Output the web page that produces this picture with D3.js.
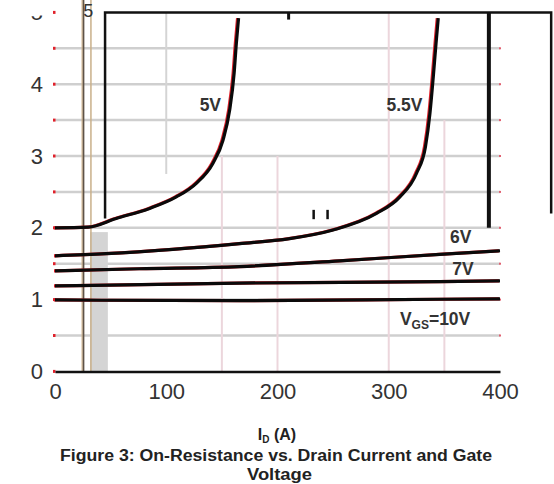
<!DOCTYPE html>
<html>
<head>
<meta charset="utf-8">
<script src="https://cdn.jsdelivr.net/npm/d3@7"></script>
<style>
  body { margin: 0; background: #fff; }
  svg { display: block; }
  text { font-family: "Liberation Sans", Arial, sans-serif; }
</style>
</head>
<body>
<div id="chart"></div>
<script>
// drain current (A) and normalised on-resistance
const id_5v = [0, 30, 55, 85, 109, 127, 142, 151, 157, 161, 163, 165];
const r_5v = [2.0, 2.01, 2.13, 2.27, 2.43, 2.62, 2.9, 3.22, 3.64, 4.15, 4.57, 4.92];

const id_55v = [0, 46, 106, 166, 211, 250, 289, 310, 325, 333, 337, 340, 342.5, 344.5];
const r_55v = [1.61, 1.64, 1.7, 1.78, 1.85, 1.97, 2.2, 2.43, 2.76, 3.13, 3.59, 4.1, 4.57, 4.92];

const id_6v = [0, 76, 166, 256, 346, 400];
const r_6v = [1.4, 1.43, 1.46, 1.54, 1.63, 1.68];

const id_7v = [0, 166, 346, 400];
const r_7v = [1.19, 1.23, 1.25, 1.26];

const id_10v = [0, 166, 346, 400];
const r_10v = [0.995, 0.985, 1.005, 1.01];

const xTicks = [0, 100, 200, 300, 400];
const yTicks = [0, 1, 2, 3, 4, 5];
const hGrid = [0.5, 1, 1.5, 2, 2.5, 3, 3.5, 4, 4.5];
// vertical grid lines are only partly visible in the scan: [current, from R, to R]
const vGrid = [[100, 2.75, 5], [150, 0, 3], [200, 0, 3], [300, 0, 5], [350, 0, 3.5]];

const W = 554, H = 484;

const svg = d3.select("#chart").append("svg")
  .attr("width", W).attr("height", H);

const x = d3.scaleLinear().domain([0, 400]).range([55, 500]);
const y = d3.scaleLinear().domain([0, 5]).range([371.4, 12.4]);

// grid
svg.append("g").selectAll("line").data(hGrid).join("line")
  .attr("x1", x(0)).attr("x2", x(400))
  .attr("y1", d => y(d)).attr("y2", d => y(d))
  .attr("stroke", "#cfcfcf").attr("stroke-width", 2.5);

svg.append("g").selectAll("line").data(vGrid).join("line")
  .attr("x1", d => x(d[0])).attr("x2", d => x(d[0]))
  .attr("y1", d => y(d[1])).attr("y2", d => y(d[2]))
  .attr("stroke", d => d[1] == 0 ? "#ecd6dc" : "#d4d4d4")
  .attr("stroke-width", 2);

// little red ends on the grid lines
svg.append("g").selectAll("rect").data(hGrid.concat([0, 5])).join("rect")
  .attr("x", x(0) - 2).attr("y", d => y(d) - 1.5)
  .attr("width", 2.5).attr("height", 3).attr("fill", "#e0202a");
svg.append("g").selectAll("rect").data(hGrid).join("rect")
  .attr("x", x(400) - 1).attr("y", d => y(d) - 1)
  .attr("width", 2).attr("height", 2).attr("fill", "#e06070");

// scan leftovers: shaded strip, doubled frame lines
svg.append("rect")
  .attr("x", x(31.5)).attr("y", y(1.94))
  .attr("width", x(47.5) - x(31.5)).attr("height", y(0) - y(1.94))
  .attr("fill", "#d4d4d4");
svg.append("line")
  .attr("x1", x(25.5)).attr("x2", x(25.5)).attr("y1", 0).attr("y2", y(0))
  .attr("stroke", "#5e5348").attr("stroke-width", 2);
svg.append("line")
  .attr("x1", x(24.3)).attr("x2", x(24.3)).attr("y1", 0).attr("y2", y(0))
  .attr("stroke", "#d2b48c").attr("stroke-width", 1);
svg.append("line")
  .attr("x1", x(32.3)).attr("x2", x(32.3)).attr("y1", 0).attr("y2", y(0))
  .attr("stroke", "#c9b08a").attr("stroke-width", 1.5);

const frame = svg.append("g").attr("stroke", "#111").attr("fill", "none");
frame.append("path")
  .attr("d", `M${x(45)},${y(2.13)}V${y(5)}H${x(446)}V${y(2.2)}`)
  .attr("stroke-width", 2.5);
frame.append("line")
  .attr("x1", x(390)).attr("x2", x(390)).attr("y1", y(5)).attr("y2", y(2))
  .attr("stroke-width", 4);
frame.append("line")
  .attr("x1", x(210)).attr("x2", x(210)).attr("y1", y(5)).attr("y2", y(4.9))
  .attr("stroke-width", 3);
frame.append("line")
  .attr("x1", x(232.5)).attr("x2", x(232.5)).attr("y1", y(2.25)).attr("y2", y(2.12))
  .attr("stroke-width", 2.5);
frame.append("line")
  .attr("x1", x(245)).attr("x2", x(245)).attr("y1", y(2.25)).attr("y2", y(2.12))
  .attr("stroke-width", 2.5);

// axes
const xAxis = svg.append("g")
  .attr("transform", `translate(0,${y(0)})`)
  .call(d3.axisBottom(x).tickValues(xTicks).tickSize(0).tickSizeOuter(0).tickPadding(12));
xAxis.select(".domain").attr("stroke", "#111").attr("stroke-width", 2.5);

const yAxis = svg.append("g")
  .attr("transform", `translate(${x(0)},0)`)
  .call(d3.axisLeft(y).tickValues(yTicks).tickFormat(d3.format("d")).tickSize(0).tickPadding(12));
yAxis.select(".domain").remove();

svg.selectAll(".tick text")
  .attr("font-size", 22)
  .attr("font-family", "Liberation Sans, Arial, sans-serif")
  .attr("fill", "#333");

// the top "5" of the scan sits off to the right, only a sliver of the real one shows
svg.append("rect").attr("x", 20).attr("y", 0).attr("width", 30).attr("height", 15.5).attr("fill", "#fff");
svg.append("text")
  .attr("x", x(30)).attr("y", 17)
  .attr("text-anchor", "middle")
  .attr("font-size", 18).attr("fill", "#333")
  .text("5");

// curves
const curves = [
  [id_5v, r_5v],
  [id_55v, r_55v],
  [id_6v, r_6v],
  [id_7v, r_7v],
  [id_10v, r_10v],
];

const line = d3.line()
  .x(d => x(d[0]))
  .y(d => y(d[1]))
  .curve(d3.curveMonotoneX);

curves.forEach(([ids, rs]) => {
  const pts = ids.map((v, i) => [v, rs[i]]);
  svg.append("path")
    .attr("d", line(pts))
    .attr("fill", "none")
    .attr("stroke", "#e0202a")
    .attr("stroke-width", 3.2)
    .attr("transform", "translate(-1,0)");
  svg.append("path")
    .attr("d", line(pts))
    .attr("fill", "none")
    .attr("stroke", "#0a0a0a")
    .attr("stroke-width", 3.2);
});

// curve labels
const lab = svg.append("g")
  .attr("font-size", 17.5).attr("font-weight", "bold").attr("fill", "#333");
lab.append("text").attr("x", x(130)).attr("y", y(3.62)).text("5V");
lab.append("text").attr("x", x(298)).attr("y", y(3.62)).text("5.5V");
lab.append("text").attr("x", x(355)).attr("y", y(1.79)).text("6V");
lab.append("text").attr("x", x(357)).attr("y", y(1.34)).text("7V");
const vgs = lab.append("text").attr("x", x(310)).attr("y", y(0.645));
vgs.append("tspan").text("V");
vgs.append("tspan").attr("font-size", 12).attr("dy", 4).text("GS");
vgs.append("tspan").attr("dy", -4).text("=10V");

// axis title and caption
const tt = svg.append("text")
  .attr("x", 277).attr("y", 440)
  .attr("text-anchor", "middle")
  .attr("font-size", 16).attr("font-weight", "bold").attr("fill", "#222");
tt.append("tspan").text("I");
tt.append("tspan").attr("font-size", 10).attr("dy", 3).text("D");
tt.append("tspan").attr("dy", -3).text(" (A)");

svg.append("text")
  .attr("x", 60).attr("y", 461)
  .attr("font-size", 16).attr("font-weight", "bold").attr("fill", "#222")
  .attr("textLength", 432).attr("lengthAdjust", "spacingAndGlyphs")
  .text("Figure 3: On-Resistance vs. Drain Current and Gate");
svg.append("text")
  .attr("x", 247).attr("y", 480)
  .attr("font-size", 16).attr("font-weight", "bold").attr("fill", "#222")
  .attr("textLength", 65).attr("lengthAdjust", "spacingAndGlyphs")
  .text("Voltage");
</script>
</body>
</html>
